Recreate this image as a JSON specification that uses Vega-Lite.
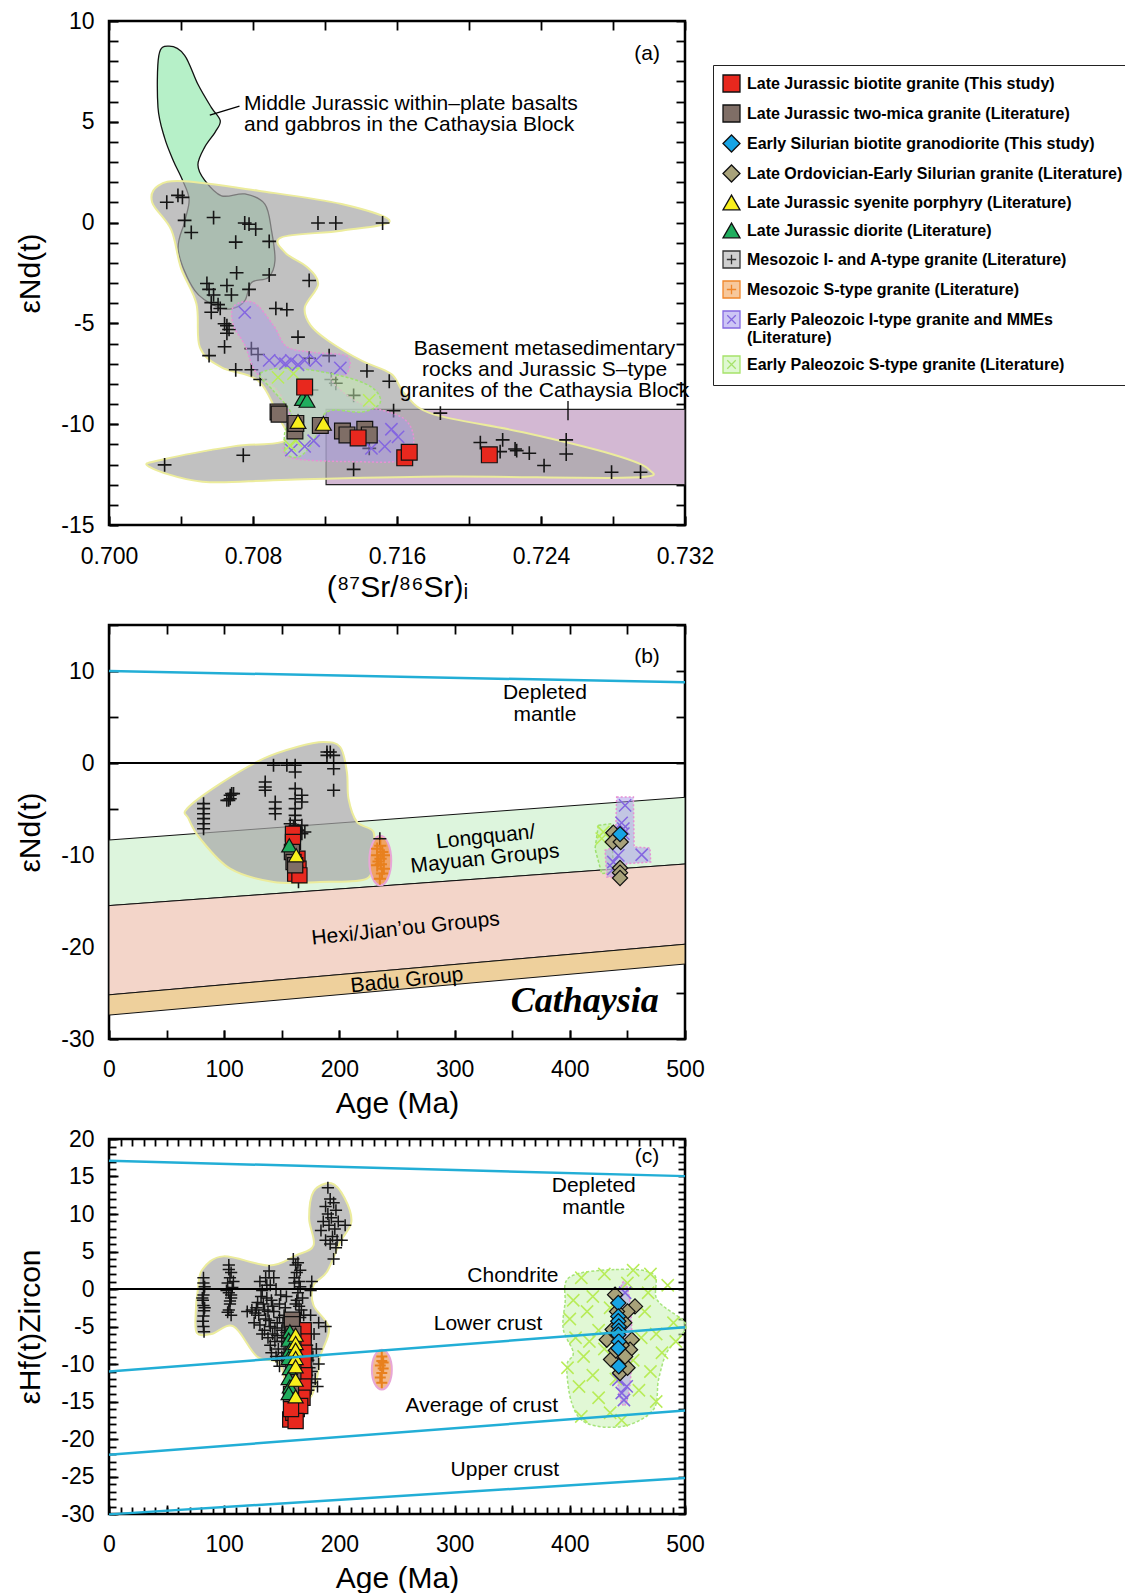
{
"$schema": "https://vega.github.io/schema/vega-lite/v6.json",
"background": "white",
"padding": {"left": 14, "top": 8, "right": 0, "bottom": 0},
"spacing": 100,
"bounds": "flush",
"config": {
  "font": "Liberation Sans",
  "view": {"stroke": "black", "strokeWidth": 2.5},
  "axis": {"domain": false, "grid": false, "ticks": true, "tickColor": "black", "tickWidth": 1.8, "tickSize": -9, "labelFontSize": 23, "labelColor": "black", "labelPadding": 24, "labelFlush": false, "labelOverlap": false, "titleFontSize": 30, "titleFontWeight": "normal", "titleColor": "black"},
  "text": {"font": "Liberation Sans", "fontSize": 21, "color": "black"}
},
"resolve": {"legend": {"shape": "independent", "fill": "independent", "stroke": "independent"}},
"datasets": {
  "a_rect": [{"x0": 0.71206, "x1": 0.732, "y0": -9.26, "y1": -13.0}],
  "a_poly": [
    {"f":"basalt","i":1,"x":0.70334,"y":8.75},{"f":"basalt","i":2,"x":0.7042,"y":8.3},{"f":"basalt","i":3,"x":0.70494,"y":6.86},{"f":"basalt","i":4,"x":0.70568,"y":5.72},{"f":"basalt","i":5,"x":0.70618,"y":5.06},{"f":"basalt","i":6,"x":0.7059,"y":4.49},{"f":"basalt","i":7,"x":0.70531,"y":3.73},{"f":"basalt","i":8,"x":0.70494,"y":2.87},{"f":"basalt","i":9,"x":0.70531,"y":2.11},{"f":"basalt","i":10,"x":0.70625,"y":1.33},{"f":"basalt","i":11,"x":0.70755,"y":1.42},{"f":"basalt","i":12,"x":0.70866,"y":0.92},{"f":"basalt","i":13,"x":0.70903,"y":-0.4},{"f":"basalt","i":14,"x":0.70922,"y":-1.89},{"f":"basalt","i":15,"x":0.70885,"y":-2.72},{"f":"basalt","i":16,"x":0.70792,"y":-2.97},{"f":"basalt","i":17,"x":0.70755,"y":-3.87},{"f":"basalt","i":18,"x":0.7069,"y":-4.25},{"f":"basalt","i":19,"x":0.70607,"y":-4.21},{"f":"basalt","i":20,"x":0.70477,"y":-3.38},{"f":"basalt","i":21,"x":0.70385,"y":-1.4},{"f":"basalt","i":22,"x":0.70422,"y":0.09},{"f":"basalt","i":23,"x":0.70445,"y":1.16},{"f":"basalt","i":24,"x":0.70408,"y":2.11},{"f":"basalt","i":25,"x":0.70358,"y":3.06},{"f":"basalt","i":26,"x":0.70309,"y":4.2},{"f":"basalt","i":27,"x":0.70272,"y":5.72},{"f":"basalt","i":28,"x":0.70277,"y":8.3},
    {"f":"meso","i":1,"x":0.70274,"y":1.83},{"f":"meso","i":2,"x":0.7042,"y":2.05},{"f":"meso","i":3,"x":0.70829,"y":1.58},{"f":"meso","i":4,"x":0.71292,"y":0.92},{"f":"meso","i":5,"x":0.7156,"y":0.07},{"f":"meso","i":6,"x":0.71292,"y":-0.4},{"f":"meso","i":7,"x":0.70958,"y":-0.73},{"f":"meso","i":8,"x":0.7098,"y":-1.5},{"f":"meso","i":9,"x":0.711,"y":-2.2},{"f":"meso","i":10,"x":0.71162,"y":-3.05},{"f":"meso","i":11,"x":0.71088,"y":-4.2},{"f":"meso","i":12,"x":0.7112,"y":-5.1},{"f":"meso","i":13,"x":0.71218,"y":-5.86},{"f":"meso","i":14,"x":0.71403,"y":-6.85},{"f":"meso","i":15,"x":0.71569,"y":-7.51},{"f":"meso","i":16,"x":0.71643,"y":-8.5},{"f":"meso","i":17,"x":0.718,"y":-9.5},{"f":"meso","i":18,"x":0.723,"y":-10.4},{"f":"meso","i":19,"x":0.728,"y":-11.5},{"f":"meso","i":20,"x":0.73,"y":-12.25},{"f":"meso","i":21,"x":0.729,"y":-12.65},{"f":"meso","i":22,"x":0.71878,"y":-12.6},{"f":"meso","i":23,"x":0.71,"y":-12.75},{"f":"meso","i":24,"x":0.70519,"y":-12.85},{"f":"meso","i":25,"x":0.70222,"y":-12.1},{"f":"meso","i":26,"x":0.703,"y":-11.75},{"f":"meso","i":27,"x":0.70692,"y":-11.1},{"f":"meso","i":28,"x":0.70977,"y":-10.82},{"f":"meso","i":29,"x":0.7094,"y":-9.6},{"f":"meso","i":30,"x":0.70829,"y":-7.84},{"f":"meso","i":31,"x":0.70625,"y":-7.18},{"f":"meso","i":32,"x":0.70505,"y":-6.19},{"f":"meso","i":33,"x":0.70486,"y":-4.04},{"f":"meso","i":34,"x":0.704,"y":-2.26},{"f":"meso","i":35,"x":0.70346,"y":-0.36},{"f":"meso","i":36,"x":0.7024,"y":1.0},
    {"f":"lav","i":1,"x":0.70692,"y":-4.16},{"f":"lav","i":2,"x":0.70803,"y":-3.97},{"f":"lav","i":3,"x":0.70914,"y":-5.11},{"f":"lav","i":4,"x":0.70988,"y":-6.16},{"f":"lav","i":5,"x":0.71137,"y":-6.44},{"f":"lav","i":6,"x":0.71322,"y":-6.63},{"f":"lav","i":7,"x":0.71322,"y":-7.49},{"f":"lav","i":8,"x":0.71235,"y":-7.78},{"f":"lav","i":9,"x":0.71384,"y":-8.92},{"f":"lav","i":10,"x":0.71631,"y":-9.68},{"f":"lav","i":11,"x":0.71693,"y":-10.82},{"f":"lav","i":12,"x":0.71631,"y":-11.77},{"f":"lav","i":13,"x":0.71384,"y":-11.86},{"f":"lav","i":14,"x":0.71013,"y":-11.67},{"f":"lav","i":15,"x":0.70976,"y":-10.82},{"f":"lav","i":16,"x":0.71013,"y":-9.87},{"f":"lav","i":17,"x":0.70939,"y":-8.35},{"f":"lav","i":18,"x":0.70815,"y":-7.4},{"f":"lav","i":19,"x":0.70754,"y":-6.06},{"f":"lav","i":20,"x":0.70692,"y":-5.11},
    {"f":"lg","i":1,"x":0.7084,"y":-7.49},{"f":"lg","i":2,"x":0.71013,"y":-7.21},{"f":"lg","i":3,"x":0.71285,"y":-7.59},{"f":"lg","i":4,"x":0.71458,"y":-8.16},{"f":"lg","i":5,"x":0.71507,"y":-8.92},{"f":"lg","i":6,"x":0.71408,"y":-9.39},{"f":"lg","i":7,"x":0.71211,"y":-9.39},{"f":"lg","i":8,"x":0.71137,"y":-10.82},{"f":"lg","i":9,"x":0.71063,"y":-11.58},{"f":"lg","i":10,"x":0.70988,"y":-11.48},{"f":"lg","i":11,"x":0.70976,"y":-10.44},{"f":"lg","i":12,"x":0.71013,"y":-9.49},{"f":"lg","i":13,"x":0.70914,"y":-8.35}
  ],
  "a_plus": [
    {"x":0.70321,"y":1.01},{"x":0.70383,"y":1.35},{"x":0.70408,"y":1.25},{"x":0.7042,"y":0.11},{"x":0.70457,"y":-0.49},{"x":0.70581,"y":0.25},{"x":0.70754,"y":-0.02},{"x":0.70778,"y":-0.08},{"x":0.70815,"y":-0.32},{"x":0.7089,"y":-0.93},{"x":0.70704,"y":-0.97},{"x":0.71161,"y":-0.02},{"x":0.7126,"y":-0.02},{"x":0.7152,"y":-0.02},{"x":0.7089,"y":-2.6},{"x":0.71112,"y":-2.87},{"x":0.70709,"y":-2.49},{"x":0.70544,"y":-3.02},{"x":0.70556,"y":-3.31},{"x":0.70581,"y":-3.59},{"x":0.70655,"y":-3.12},{"x":0.7068,"y":-3.59},{"x":0.70778,"y":-3.31},{"x":0.70568,"y":-3.97},{"x":0.70606,"y":-4.07},{"x":0.70568,"y":-4.45},{"x":0.70618,"y":-4.26},{"x":0.70927,"y":-4.26},{"x":0.70988,"y":-4.32},{"x":0.70655,"y":-5.11},{"x":0.70667,"y":-5.3},{"x":0.70642,"y":-5.02},{"x":0.7105,"y":-5.68},{"x":0.70655,"y":-5.49},{"x":0.70556,"y":-6.6},{"x":0.70642,"y":-6.16},{"x":0.70704,"y":-7.3},{"x":0.70791,"y":-7.3},{"x":0.7084,"y":-7.78},{"x":0.71433,"y":-7.36},{"x":0.71557,"y":-7.87},{"x":0.71223,"y":-6.6},{"x":0.71112,"y":-6.73},{"x":0.71359,"y":-8.57},{"x":0.71581,"y":-9.33},{"x":0.71841,"y":-9.45},{"x":0.70309,"y":-12.02},{"x":0.70746,"y":-11.54},{"x":0.71359,"y":-12.24},{"x":0.72063,"y":-10.91},{"x":0.72187,"y":-10.78},{"x":0.72256,"y":-11.23},{"x":0.72265,"y":-11.31},{"x":0.72335,"y":-11.44},{"x":0.72417,"y":-12.05},{"x":0.7254,"y":-10.78},{"x":0.7254,"y":-11.48},{"x":0.72792,"y":-12.38},{"x":0.72953,"y":-12.38},{"x":0.71446,"y":-11.2},{"x":0.72173,"y":-11.36},{"x":0.70791,"y":-6.25},{"x":0.70828,"y":-6.54},{"x":0.71235,"y":-7.78},{"x":0.7126,"y":-7.97},{"x":0.71125,"y":-8.3}
  ],
  "a_xl": [
    {"x":0.70754,"y":-4.45},{"x":0.7089,"y":-6.83},{"x":0.70951,"y":-6.86},{"x":0.71013,"y":-6.83},{"x":0.71087,"y":-6.83},{"x":0.71149,"y":-6.83},{"x":0.71285,"y":-7.21},{"x":0.71569,"y":-10.25},{"x":0.71606,"y":-10.63},{"x":0.71532,"y":-11.1},{"x":0.71458,"y":-11.2},{"x":0.71137,"y":-10.82},{"x":0.71087,"y":-11.1},{"x":0.71013,"y":-11.29},{"x":0.7098,"y":-7.0},{"x":0.7105,"y":-7.05}
  ],
  "a_xg": [
    {"x":0.70939,"y":-7.68},{"x":0.71025,"y":-7.49},{"x":0.71446,"y":-8.82},{"x":0.71038,"y":-10.82},{"x":0.71005,"y":-11.05}
  ],
  "a_sym": [
    {"s":"Late Jurassic two-mica granite (Literature)","x":0.70939,"y":-9.39},{"s":"Late Jurassic two-mica granite (Literature)","x":0.70945,"y":-9.5},{"s":"Late Jurassic two-mica granite (Literature)","x":0.71033,"y":-10.34},{"s":"Late Jurassic two-mica granite (Literature)","x":0.71038,"y":-9.96},{"s":"Late Jurassic two-mica granite (Literature)","x":0.71174,"y":-10.06},{"s":"Late Jurassic two-mica granite (Literature)","x":0.71297,"y":-10.34},{"s":"Late Jurassic two-mica granite (Literature)","x":0.71322,"y":-10.53},{"s":"Late Jurassic two-mica granite (Literature)","x":0.71421,"y":-10.25},{"s":"Late Jurassic two-mica granite (Literature)","x":0.71446,"y":-10.53},
    {"s":"Late Jurassic diorite (Literature)","x":0.71075,"y":-8.73},{"s":"Late Jurassic diorite (Literature)","x":0.711,"y":-8.82},
    {"s":"Late Jurassic syenite porphyry (Literature)","x":0.7105,"y":-9.87},{"s":"Late Jurassic syenite porphyry (Literature)","x":0.71191,"y":-9.96},
    {"s":"Late Jurassic biotite granite (This study)","x":0.71087,"y":-8.16},{"s":"Late Jurassic biotite granite (This study)","x":0.71384,"y":-10.68},{"s":"Late Jurassic biotite granite (This study)","x":0.71643,"y":-11.67},{"s":"Late Jurassic biotite granite (This study)","x":0.71668,"y":-11.39},{"s":"Late Jurassic biotite granite (This study)","x":0.72113,"y":-11.52}
  ],
  "a_text_c": [
    {"t":"(a)","x":0.7299,"y":8.38},{"t":"Basement metasedimentary","x":0.7242,"y":-6.25},{"t":"rocks and Jurassic S–type","x":0.7242,"y":-7.29},{"t":"granites of the Cathaysia Block","x":0.7242,"y":-8.33}
  ],
  "a_text_l": [
    {"t":"Middle Jurassic within–plate basalts","x":0.7075,"y":5.9},{"t":"and gabbros in the Cathaysia Block","x":0.7075,"y":4.86}
  ],
  "a_arrow": [
    {"x":0.70725,"y":5.78,"x2":0.7056,"y2":5.33},{"x":0.7255,"y":-8.85,"x2":0.7255,"y2":-9.8}
  ],
  "b_band": [
    {"b":"lm","x":0,"hi":-8.37,"lo":-15.5},{"b":"lm","x":500,"hi":-3.73,"lo":-10.98},
    {"b":"hx","x":0,"hi":-15.5,"lo":-25.2},{"b":"hx","x":500,"hi":-10.98,"lo":-19.7},
    {"b":"bd","x":0,"hi":-25.2,"lo":-27.4},{"b":"bd","x":500,"hi":-19.7,"lo":-21.85}
  ],
  "b_lines": [
    {"l":"dm","x":0,"y":10},{"l":"dm","x":500,"y":8.77},{"l":"ch","x":0,"y":0},{"l":"ch","x":500,"y":0}
  ],
  "b_poly": [
    {"f":"meso","i":1,"x":67.7,"y":-4.97},{"f":"meso","i":2,"x":96.6,"y":-2.25},{"f":"meso","i":3,"x":134.1,"y":0.47},{"f":"meso","i":4,"x":163.1,"y":1.74},{"f":"meso","i":5,"x":186.2,"y":2.28},{"f":"meso","i":6,"x":200.7,"y":1.74},{"f":"meso","i":7,"x":206.5,"y":-0.98},{"f":"meso","i":8,"x":207.9,"y":-3.88},{"f":"meso","i":9,"x":215.2,"y":-6.41},{"f":"meso","i":10,"x":229.6,"y":-7.5},{"f":"meso","i":11,"x":228,"y":-10.0},{"f":"meso","i":12,"x":223.8,"y":-12.58},{"f":"meso","i":13,"x":183.3,"y":-12.93},{"f":"meso","i":14,"x":142.8,"y":-12.93},{"f":"meso","i":15,"x":105.2,"y":-11.49},{"f":"meso","i":16,"x":79.2,"y":-8.23},{"f":"meso","i":17,"x":69.1,"y":-6.05},
    {"f":"lav","i":1,"x":440.7,"y":-3.7},{"f":"lav","i":2,"x":455.2,"y":-3.7},{"f":"lav","i":3,"x":455.8,"y":-9.13},{"f":"lav","i":4,"x":469.6,"y":-9.24},{"f":"lav","i":5,"x":470.2,"y":-10.76},{"f":"lav","i":6,"x":449.4,"y":-10.94},{"f":"lav","i":7,"x":445,"y":-12.39},{"f":"lav","i":8,"x":432.1,"y":-12.39},{"f":"lav","i":9,"x":430.6,"y":-9.49},{"f":"lav","i":10,"x":439.3,"y":-9.13},{"f":"lav","i":11,"x":440.1,"y":-6.41},
    {"f":"lg","i":1,"x":424.8,"y":-6.77},{"f":"lg","i":2,"x":436.4,"y":-6.6},{"f":"lg","i":3,"x":437.8,"y":-11.85},{"f":"lg","i":4,"x":427.7,"y":-12.03},{"f":"lg","i":5,"x":421.9,"y":-9.31},
    {"f":"or","i":1,"x":235.5,"y":-7.9},{"f":"or","i":2,"x":242.2,"y":-8.7},{"f":"or","i":3,"x":245,"y":-10.6},{"f":"or","i":4,"x":242.2,"y":-12.5},{"f":"or","i":5,"x":235.5,"y":-13.3},{"f":"or","i":6,"x":228.8,"y":-12.5},{"f":"or","i":7,"x":226,"y":-10.6},{"f":"or","i":8,"x":228.8,"y":-8.7}
  ],
  "b_plus": [
    {"x":82.1,"y":-4.42},{"x":82.1,"y":-4.96},{"x":82.1,"y":-5.51},{"x":82.1,"y":-6.05},{"x":82.1,"y":-6.6},{"x":82.1,"y":-7.14},{"x":105.2,"y":-3.51},{"x":105.2,"y":-3.88},{"x":106.5,"y":-3.33},{"x":104,"y":-4.06},{"x":102.3,"y":-4.06},{"x":108.1,"y":-3.33},{"x":135.6,"y":-2.07},{"x":135.6,"y":-2.61},{"x":135.6,"y":-2.97},{"x":144.3,"y":-4.24},{"x":144.3,"y":-4.96},{"x":144.3,"y":-5.51},{"x":142.8,"y":-0.25},{"x":154.4,"y":-0.25},{"x":161.6,"y":-0.25},{"x":161.6,"y":-0.98},{"x":161.6,"y":-2.79},{"x":161.6,"y":-3.88},{"x":161.6,"y":-4.96},{"x":161.6,"y":-5.69},{"x":161.6,"y":-6.23},{"x":161.6,"y":-6.78},{"x":167.4,"y":-3.51},{"x":167.4,"y":-4.24},{"x":167.4,"y":-6.78},{"x":167.4,"y":-7.68},{"x":160.2,"y":-6.96},{"x":157.3,"y":-6.6},{"x":164,"y":-7.3},{"x":170,"y":-7.5},{"x":189.2,"y":1.2},{"x":189.2,"y":0.83},{"x":192.1,"y":1.2},{"x":195,"y":0.83},{"x":195,"y":-0.62},{"x":195,"y":-2.97},{"x":164.5,"y":-12.9},{"x":235.1,"y":-8.23}
  ],
  "b_orange": [
    {"x":232.8,"y":-9.31},{"x":237.2,"y":-9.67},{"x":235.7,"y":-10.4},{"x":232.8,"y":-11.12},{"x":238.6,"y":-11.49},{"x":235.1,"y":-12.57},{"x":238.6,"y":-10.04},{"x":232.8,"y":-10.04},{"x":235.5,"y":-9.0},{"x":236,"y":-11.0},{"x":234,"y":-10.7},{"x":237,"y":-12.0}
  ],
  "b_xl": [
    {"x":448,"y":-4.6},{"x":462.4,"y":-9.97},{"x":446.5,"y":-7.14},{"x":437.8,"y":-10.76},{"x":442.1,"y":-10.04},{"x":437.8,"y":-11.5},{"x":446.5,"y":-7.68},{"x":445,"y":-6.5}
  ],
  "b_xg": [{"x":427.7,"y":-8.23},{"x":429.1,"y":-7.5}],
  "b_sym": [
    {"s":"Late Jurassic biotite granite (This study)","x":159.7,"y":-7.68},{"s":"Late Jurassic biotite granite (This study)","x":159.7,"y":-8.59},{"s":"Late Jurassic biotite granite (This study)","x":163.6,"y":-10.4},{"s":"Late Jurassic biotite granite (This study)","x":164.5,"y":-11.49},{"s":"Late Jurassic biotite granite (This study)","x":161.6,"y":-12.03},{"s":"Late Jurassic biotite granite (This study)","x":165.3,"y":-12.21},
    {"s":"Late Jurassic two-mica granite (Literature)","x":158.8,"y":-9.68},{"s":"Late Jurassic two-mica granite (Literature)","x":160.2,"y":-10.76},{"s":"Late Jurassic two-mica granite (Literature)","x":161.6,"y":-11.12},
    {"s":"Late Jurassic diorite (Literature)","x":156.5,"y":-8.95},
    {"s":"Late Jurassic syenite porphyry (Literature)","x":162.5,"y":-10.04},
    {"s":"Late Ordovician-Early Silurian granite (Literature)","x":437.8,"y":-7.58},{"s":"Late Ordovician-Early Silurian granite (Literature)","x":437.2,"y":-8.59},{"s":"Late Ordovician-Early Silurian granite (Literature)","x":444.2,"y":-8.59},{"s":"Late Ordovician-Early Silurian granite (Literature)","x":443.6,"y":-11.41},{"s":"Late Ordovician-Early Silurian granite (Literature)","x":443.6,"y":-11.92},{"s":"Late Ordovician-Early Silurian granite (Literature)","x":443.6,"y":-12.5},
    {"s":"Early Silurian biotite granodiorite (This study)","x":443.6,"y":-7.73}
  ],
  "b_text": [
    {"t":"(b)","x":467,"y":11.49},{"t":"Depleted","x":378.4,"y":7.6},{"t":"mantle","x":378.4,"y":5.2}
  ],
  "b_text_r": [
    {"t":"Longquan/","x":327,"y":-8.08},{"t":"Mayuan Groups","x":326.3,"y":-10.43},{"t":"Hexi/Jian’ou Groups","x":257.5,"y":-18.04},{"t":"Badu Group","x":258.7,"y":-23.66}
  ],
  "b_cath": [{"t":"Cathaysia","x":413,"y":-25.83}],
  "c_lines": [
    {"l":"dm","x":0,"y":17.1},{"l":"dm","x":500,"y":15.05},{"l":"lc","x":0,"y":-11},{"l":"lc","x":500,"y":-5.1},{"l":"ac","x":0,"y":-22.1},{"l":"ac","x":500,"y":-16.2},{"l":"uc","x":0,"y":-30.05},{"l":"uc","x":500,"y":-25.2},{"l":"ch","x":0,"y":0},{"l":"ch","x":500,"y":0}
  ],
  "c_poly": [
    {"f":"meso","i":1,"x":77.2,"y":0},{"f":"meso","i":2,"x":81.1,"y":2.6},{"f":"meso","i":3,"x":99.4,"y":4.35},{"f":"meso","i":4,"x":139,"y":3.14},{"f":"meso","i":5,"x":162.2,"y":4.48},{"f":"meso","i":6,"x":177.6,"y":5.83},{"f":"meso","i":7,"x":173.7,"y":9.42},{"f":"meso","i":8,"x":177.6,"y":13.0},{"f":"meso","i":9,"x":193,"y":14.1},{"f":"meso","i":10,"x":204.6,"y":12.1},{"f":"meso","i":11,"x":210.4,"y":8.97},{"f":"meso","i":12,"x":200.8,"y":6.28},{"f":"meso","i":13,"x":189.2,"y":2.29},{"f":"meso","i":14,"x":177.6,"y":0.5},{"f":"meso","i":15,"x":177.6,"y":-2.2},{"f":"meso","i":16,"x":191,"y":-5.2},{"f":"meso","i":17,"x":183.3,"y":-8.99},{"f":"meso","i":18,"x":181,"y":-11.5},{"f":"meso","i":19,"x":174.6,"y":-14.5},{"f":"meso","i":20,"x":157.3,"y":-15.2},{"f":"meso","i":21,"x":148.6,"y":-10.09},{"f":"meso","i":22,"x":128.4,"y":-8.99},{"f":"meso","i":23,"x":108.1,"y":-4.99},{"f":"meso","i":24,"x":88.8,"y":-6.0},{"f":"meso","i":25,"x":76.3,"y":-5.87},{"f":"meso","i":26,"x":75.3,"y":-3.1},
    {"f":"lg","i":1,"x":400,"y":1.6},{"f":"lg","i":2,"x":440,"y":2.6},{"f":"lg","i":3,"x":472.5,"y":2.0},{"f":"lg","i":4,"x":476,"y":-1.5},{"f":"lg","i":5,"x":500,"y":-4.5},{"f":"lg","i":6,"x":495,"y":-6.5},{"f":"lg","i":7,"x":484,"y":-8.5},{"f":"lg","i":8,"x":477,"y":-12.1},{"f":"lg","i":9,"x":472.5,"y":-16.1},{"f":"lg","i":10,"x":446.5,"y":-18.3},{"f":"lg","i":11,"x":414.7,"y":-17.9},{"f":"lg","i":12,"x":401.7,"y":-15.2},{"f":"lg","i":13,"x":397.4,"y":-10.3},{"f":"lg","i":14,"x":403,"y":-8.5},{"f":"lg","i":15,"x":394.4,"y":-5.4},{"f":"lg","i":16,"x":395.9,"y":-1.9},
    {"f":"lav","i":1,"x":447,"y":1.0},{"f":"lav","i":2,"x":452,"y":-1.5},{"f":"lav","i":3,"x":454,"y":-7.3},{"f":"lav","i":4,"x":452,"y":-13},{"f":"lav","i":5,"x":447,"y":-15.6},{"f":"lav","i":6,"x":442,"y":-13},{"f":"lav","i":7,"x":440,"y":-7.3},{"f":"lav","i":8,"x":442,"y":-1.5},
    {"f":"or","i":1,"x":236.8,"y":-8.1},{"f":"or","i":2,"x":243,"y":-8.9},{"f":"or","i":3,"x":245.5,"y":-10.76},{"f":"or","i":4,"x":243,"y":-12.6},{"f":"or","i":5,"x":236.8,"y":-13.4},{"f":"or","i":6,"x":230.6,"y":-12.6},{"f":"or","i":7,"x":228.2,"y":-10.76},{"f":"or","i":8,"x":230.6,"y":-8.9}
  ],
  "c_plus": [
    {"x":82,"y":1.5},{"x":82,"y":0.8},{"x":82.5,"y":0},{"x":82,"y":-0.8},{"x":81.5,"y":-1.5},{"x":82,"y":-2.2},{"x":82.5,"y":-2.9},{"x":82,"y":-3.6},{"x":81.5,"y":-4.3},{"x":82,"y":-5.0},{"x":82.5,"y":-5.7},{"x":83,"y":0.3},{"x":81,"y":-1.2},{"x":83,"y":-2.5},
    {"x":104,"y":3.2},{"x":106,"y":2.2},{"x":105,"y":1.5},{"x":103,"y":0.8},{"x":107,"y":0.2},{"x":104,"y":-0.5},{"x":106,"y":-1.2},{"x":105,"y":-2.0},{"x":104,"y":-2.8},{"x":106,"y":-3.5},{"x":108,"y":1.0},{"x":102,"y":-0.2},{"x":104,"y":2.6},{"x":106,"y":-0.8},{"x":105,"y":-1.6},{"x":103,"y":-3.1},
    {"x":128,"y":-2.5},{"x":130,"y":-3.5},{"x":132,"y":-1.0},{"x":134,"y":-2.0},{"x":136,"y":-4.0},{"x":137,"y":0.5},{"x":138,"y":-3.0},{"x":139,"y":2.4},{"x":140,"y":-5.0},{"x":141,"y":-1.5},{"x":142,"y":-6.0},{"x":143,"y":-3.0},{"x":144,"y":-7.0},{"x":145,"y":0.0},{"x":146,"y":-4.5},{"x":147,"y":-8.0},{"x":148,"y":-2.0},{"x":150,"y":-5.5},{"x":150,"y":-9.0},{"x":152,"y":-3.5},{"x":152,"y":-6.5},{"x":154,"y":-1.0},{"x":155,"y":-7.5},{"x":135,"y":-5.5},{"x":138,"y":-6.5},{"x":133,"y":-0.2},{"x":131,"y":1.0},{"x":143,"y":1.5},{"x":126,"y":-4.5},{"x":120,"y":-3.0},{"x":124,"y":-2.8},{"x":148,"y":-10.3},{"x":145,"y":-9.0},{"x":141,"y":-8.5},
    {"x":129,"y":-1.8},{"x":131,"y":-4.8},{"x":133,"y":-6.0},{"x":135,"y":-2.8},{"x":137,"y":-1.2},{"x":139,"y":-4.2},{"x":140,"y":-7.5},{"x":142,"y":-2.3},{"x":144,"y":-5.2},{"x":146,"y":-6.2},{"x":148,"y":-3.8},{"x":149,"y":-0.8},{"x":151,"y":-4.5},{"x":153,"y":-2.5},{"x":154,"y":-5.8},{"x":136,"y":1.5},{"x":140,"y":0.5},{"x":127,"y":-3.2},{"x":146,"y":-9.5},{"x":152,"y":-8.5},
    {"x":160,"y":4},{"x":162,"y":3.2},{"x":163,"y":2.2},{"x":161,"y":1.5},{"x":165,"y":1.0},{"x":166,"y":0.3},{"x":164,"y":-0.5},{"x":168,"y":-1.2},{"x":162,"y":-2.0},{"x":167,"y":-2.8},{"x":169,"y":-3.5},{"x":160,"y":-4.2},{"x":165,"y":-5.0},{"x":170,"y":-5.8},{"x":168,"y":-6.5},{"x":172,"y":-7.5},{"x":171,"y":-8.5},{"x":173,"y":-9.5},{"x":174,"y":-10.5},{"x":172,"y":-11.5},{"x":175,"y":-12.5},{"x":173,"y":-13.5},{"x":170,"y":-14.2},{"x":178,"y":-6.0},{"x":180,"y":-8.0},{"x":182,"y":-10.0},{"x":179,"y":-12.0},{"x":176,"y":-11.0},{"x":177,"y":-9.0},{"x":181,"y":-13.0},{"x":188,"y":-5.0},{"x":182,"y":-4.5},{"x":175,"y":-3.5},{"x":155,"y":-8.5},{"x":150,"y":-7.0},{"x":175,"y":-0.2},{"x":176,"y":1.0},
    {"x":161,"y":0.8},{"x":163,"y":-1.5},{"x":165,"y":-2.3},{"x":166,"y":-3.8},{"x":162,"y":-4.8},{"x":167,"y":-5.5},{"x":163,"y":-6.3},{"x":169,"y":-7.2},{"x":165,"y":-8.5},{"x":170,"y":-9.8},{"x":168,"y":-11.0},{"x":171,"y":-12.8},{"x":166,"y":2.5},{"x":164,"y":3.5},
    {"x":190,"y":13.5},{"x":192,"y":12.0},{"x":188,"y":11.0},{"x":195,"y":11.5},{"x":190,"y":10.0},{"x":193,"y":9.5},{"x":197,"y":10.5},{"x":186,"y":9.0},{"x":191,"y":8.5},{"x":196,"y":8.0},{"x":199,"y":9.0},{"x":184,"y":7.8},{"x":194,"y":7.0},{"x":198,"y":6.5},{"x":192,"y":6.0},{"x":202,"y":6.5},{"x":197,"y":5.5},{"x":195,"y":4.0},{"x":205,"y":8.5},{"x":188,"y":6.5}
  ],
  "c_orange": [
    {"x":236.8,"y":-9.0},{"x":236.8,"y":-9.6},{"x":235.5,"y":-10.2},{"x":238,"y":-10.6},{"x":236.8,"y":-11.2},{"x":235.5,"y":-11.8},{"x":236.8,"y":-12.5},{"x":238,"y":-9.8}
  ],
  "c_xl": [
    {"x":445.1,"y":-13.87},{"x":449.4,"y":-12.98},{"x":442.2,"y":-12.1},{"x":447,"y":-14.8},{"x":446,"y":-9.5},{"x":448,"y":-0.5}
  ],
  "c_xg": [
    {"x":410,"y":1.5},{"x":420,"y":-1.0},{"x":430,"y":2.0},{"x":455,"y":2.5},{"x":470,"y":2.0},{"x":485,"y":0.5},{"x":400,"y":-4.0},{"x":405,"y":-6.5},{"x":415,"y":-3.0},{"x":425,"y":-5.5},{"x":435,"y":-2.5},{"x":412,"y":-9.0},{"x":420,"y":-11.5},{"x":430,"y":-8.0},{"x":408,"y":-13.0},{"x":425,"y":-14.5},{"x":435,"y":-16.5},{"x":445,"y":-17.5},{"x":410,"y":-17.0},{"x":465,"y":-3.0},{"x":475,"y":-6.0},{"x":490,"y":-4.5},{"x":480,"y":-8.5},{"x":470,"y":-11.0},{"x":460,"y":-13.5},{"x":475,"y":-15.0},{"x":455,"y":-9.5},{"x":462,"y":-6.5},{"x":468,"y":-0.5},{"x":398,"y":-10.5},{"x":440,"y":-12.0},{"x":417,"y":-7.0},{"x":492,"y":-7.0},{"x":450,"y":0.8},{"x":403,"y":-1.5}
  ],
  "c_sym": [
    {"s":"Late Jurassic biotite granite (This study)","x":169,"y":-5.5},{"s":"Late Jurassic biotite granite (This study)","x":169,"y":-7},{"s":"Late Jurassic biotite granite (This study)","x":169.5,"y":-8.5},{"s":"Late Jurassic biotite granite (This study)","x":169,"y":-10},{"s":"Late Jurassic biotite granite (This study)","x":169.5,"y":-11.5},{"s":"Late Jurassic biotite granite (This study)","x":169,"y":-13},{"s":"Late Jurassic biotite granite (This study)","x":168,"y":-14.5},{"s":"Late Jurassic biotite granite (This study)","x":157.3,"y":-17.4},{"s":"Late Jurassic biotite granite (This study)","x":160,"y":-16.5},{"s":"Late Jurassic biotite granite (This study)","x":163,"y":-16},{"s":"Late Jurassic biotite granite (This study)","x":166,"y":-15.6},{"s":"Late Jurassic biotite granite (This study)","x":162,"y":-17.6},{"s":"Late Jurassic biotite granite (This study)","x":158,"y":-16},
    {"s":"Late Jurassic two-mica granite (Literature)","x":158.8,"y":-4.1},{"s":"Late Jurassic two-mica granite (Literature)","x":158.8,"y":-4.7},{"s":"Late Jurassic two-mica granite (Literature)","x":160,"y":-6},{"s":"Late Jurassic two-mica granite (Literature)","x":160,"y":-8},{"s":"Late Jurassic two-mica granite (Literature)","x":160,"y":-11},{"s":"Late Jurassic two-mica granite (Literature)","x":158,"y":-14},
    {"s":"Late Jurassic diorite (Literature)","x":157,"y":-5.65},{"s":"Late Jurassic diorite (Literature)","x":156,"y":-6.76},{"s":"Late Jurassic diorite (Literature)","x":157,"y":-8.09},{"s":"Late Jurassic diorite (Literature)","x":156,"y":-9.2},{"s":"Late Jurassic diorite (Literature)","x":157,"y":-10.53},{"s":"Late Jurassic diorite (Literature)","x":156,"y":-11.87},{"s":"Late Jurassic diorite (Literature)","x":157,"y":-12.99},{"s":"Late Jurassic diorite (Literature)","x":156,"y":-13.87},
    {"s":"Late Jurassic syenite porphyry (Literature)","x":162,"y":-6.09},{"s":"Late Jurassic syenite porphyry (Literature)","x":162,"y":-7.2},{"s":"Late Jurassic syenite porphyry (Literature)","x":162,"y":-8.09},{"s":"Late Jurassic syenite porphyry (Literature)","x":162,"y":-9.2},{"s":"Late Jurassic syenite porphyry (Literature)","x":162,"y":-10.32},{"s":"Late Jurassic syenite porphyry (Literature)","x":162,"y":-12.09},{"s":"Late Jurassic syenite porphyry (Literature)","x":162,"y":-14.32},
    {"s":"Late Ordovician-Early Silurian granite (Literature)","x":439.3,"y":-0.76},{"s":"Late Ordovician-Early Silurian granite (Literature)","x":456.6,"y":-2.32},{"s":"Late Ordovician-Early Silurian granite (Literature)","x":450.1,"y":-2.99},{"s":"Late Ordovician-Early Silurian granite (Literature)","x":432.1,"y":-6.76},{"s":"Late Ordovician-Early Silurian granite (Literature)","x":453.8,"y":-6.76},{"s":"Late Ordovician-Early Silurian granite (Literature)","x":452.3,"y":-8.1},{"s":"Late Ordovician-Early Silurian granite (Literature)","x":443.6,"y":-11.2},{"s":"Late Ordovician-Early Silurian granite (Literature)","x":450.1,"y":-10.5},{"s":"Late Ordovician-Early Silurian granite (Literature)","x":437.2,"y":-5.4},{"s":"Late Ordovician-Early Silurian granite (Literature)","x":447.3,"y":-4.5},{"s":"Late Ordovician-Early Silurian granite (Literature)","x":435.8,"y":-9.4},{"s":"Late Ordovician-Early Silurian granite (Literature)","x":441,"y":-3.0},{"s":"Late Ordovician-Early Silurian granite (Literature)","x":445,"y":-7.5},{"s":"Late Ordovician-Early Silurian granite (Literature)","x":448,"y":-9.0},{"s":"Late Ordovician-Early Silurian granite (Literature)","x":440,"y":-8.2},
    {"s":"Early Silurian biotite granodiorite (This study)","x":442.1,"y":-1.87},{"s":"Early Silurian biotite granodiorite (This study)","x":442.1,"y":-3.65},{"s":"Early Silurian biotite granodiorite (This study)","x":442.1,"y":-4.3},{"s":"Early Silurian biotite granodiorite (This study)","x":442.5,"y":-5.0},{"s":"Early Silurian biotite granodiorite (This study)","x":442.5,"y":-5.6},{"s":"Early Silurian biotite granodiorite (This study)","x":442.1,"y":-6.1},{"s":"Early Silurian biotite granodiorite (This study)","x":442.5,"y":-7.0},{"s":"Early Silurian biotite granodiorite (This study)","x":442.1,"y":-7.9},{"s":"Early Silurian biotite granodiorite (This study)","x":442.5,"y":-10.3}
  ],
  "c_text": [
    {"t":"(c)","x":467,"y":17.6},{"t":"Depleted","x":420.8,"y":13.7},{"t":"mantle","x":420.8,"y":10.8},{"t":"Chondrite","x":350.6,"y":1.75},{"t":"Lower crust","x":329,"y":-4.66},{"t":"Average of crust","x":323.6,"y":-15.65},{"t":"Upper crust","x":343.6,"y":-24.08}
  ]
},
"vconcat": [
  {
    "width": 576, "height": 504,
    "resolve": {"axis": {"x": "independent", "y": "independent"}},
    "layer": [
      {"layer": [
        {"data": {"name": "a_rect"}, "mark": {"type": "rect", "fill": "#d3b8d3", "stroke": "#222", "strokeWidth": 1.2},
         "encoding": {
           "x": {"field": "x0", "type": "quantitative", "scale": {"domain": [0.7, 0.732], "nice": false, "zero": false},
                 "axis": {"orient": "bottom", "values": [0.7,0.708,0.716,0.724,0.732], "labelPadding": 29, "labelExpr": "format(datum.value, '.3f')", "title": "(⁸⁷Sr/⁸⁶Sr)ᵢ", "titlePadding": 4}},
           "x2": {"field": "x1"},
           "y": {"field": "y0", "type": "quantitative", "scale": {"domain": [-15, 10], "nice": false, "zero": false},
                 "axis": {"orient": "left", "values": [-15,-10,-5,0,5,10], "labelExpr": "toString(datum.value)", "title": "εNd(t)", "titlePadding": 15}},
           "y2": {"field": "y1"}}},
        {"data": {"name": "a_poly"}, "transform": [{"filter": "datum.f == 'basalt'"}],
         "mark": {"type": "line", "interpolate": "cardinal-closed", "fill": "#b6f0c8", "stroke": "#111", "strokeWidth": 1.3},
         "encoding": {"x": {"field": "x", "type": "quantitative"}, "y": {"field": "y", "type": "quantitative"}, "order": {"field": "i"}}},
        {"data": {"name": "a_poly"}, "transform": [{"filter": "datum.f == 'meso'"}],
         "mark": {"type": "line", "interpolate": "cardinal-closed", "fill": "#a6a6a6", "fillOpacity": 0.7, "stroke": "#ecec9c", "strokeWidth": 2},
         "encoding": {"x": {"field": "x", "type": "quantitative"}, "y": {"field": "y", "type": "quantitative"}, "order": {"field": "i"}}},
        {"data": {"name": "a_plus"}, "mark": {"type": "point", "shape": "M-1,0H1M0,-1V1", "filled": false, "stroke": "#151515", "strokeWidth": 1.6, "size": 190, "opacity": 1},
         "encoding": {"x": {"field": "x", "type": "quantitative"}, "y": {"field": "y", "type": "quantitative"}}},
        {"data": {"name": "a_poly"}, "transform": [{"filter": "datum.f == 'lav'"}],
         "mark": {"type": "line", "interpolate": "cardinal-closed", "fill": "#a898ea", "fillOpacity": 0.45, "stroke": "#e890d4", "strokeWidth": 1.5, "strokeDash": [2, 2]},
         "encoding": {"x": {"field": "x", "type": "quantitative"}, "y": {"field": "y", "type": "quantitative"}, "order": {"field": "i"}}},
        {"data": {"name": "a_poly"}, "transform": [{"filter": "datum.f == 'lg'"}],
         "mark": {"type": "line", "interpolate": "cardinal-closed", "fill": "#c8f2b2", "fillOpacity": 0.5, "stroke": "#9ee070", "strokeWidth": 1.5, "strokeDash": [3, 2]},
         "encoding": {"x": {"field": "x", "type": "quantitative"}, "y": {"field": "y", "type": "quantitative"}, "order": {"field": "i"}}},
        {"data": {"name": "a_xl"}, "mark": {"type": "point", "shape": "M-1,-1L1,1M-1,1L1,-1", "filled": false, "stroke": "#8466e0", "strokeWidth": 1.5, "size": 150, "opacity": 1},
         "encoding": {"x": {"field": "x", "type": "quantitative"}, "y": {"field": "y", "type": "quantitative"}}},
        {"data": {"name": "a_xg"}, "mark": {"type": "point", "shape": "M-1,-1L1,1M-1,1L1,-1", "filled": false, "stroke": "#b8ec58", "strokeWidth": 1.5, "size": 150, "opacity": 1},
         "encoding": {"x": {"field": "x", "type": "quantitative"}, "y": {"field": "y", "type": "quantitative"}}},
        {"data": {"name": "a_sym"}, "mark": {"type": "point", "filled": true, "opacity": 1, "size": 250, "strokeWidth": 1.2},
         "encoding": {
           "x": {"field": "x", "type": "quantitative"}, "y": {"field": "y", "type": "quantitative"},
           "shape": {"field": "s", "type": "nominal",
             "scale": {"domain": ["Late Jurassic biotite granite (This study)","Late Jurassic two-mica granite (Literature)","Early Silurian biotite granodiorite (This study)","Late Ordovician-Early Silurian granite (Literature)","Late Jurassic syenite porphyry (Literature)","Late Jurassic diorite (Literature)","Mesozoic I- and A-type granite (Literature)","Mesozoic S-type granite (Literature)","Early Paleozoic I-type granite and MMEs (Literature)","Early Paleozoic S-type granite (Literature)"],
                       "range": ["square","square","diamond","diamond","triangle-up","triangle-up","M-1,-1H1V1H-1Z M-0.55,0H0.55 M0,-0.55V0.55","M-1,-1H1V1H-1Z M-0.55,0H0.55 M0,-0.55V0.55","M-1,-1H1V1H-1Z M-0.5,-0.5L0.5,0.5 M-0.5,0.5L0.5,-0.5","M-1,-1H1V1H-1Z M-0.5,-0.5L0.5,0.5 M-0.5,0.5L0.5,-0.5"]},
             "legend": {"orient": "none", "legendX": 604, "legendY": 44, "title": null, "labelFontSize": 16, "labelFontWeight": "bold", "labelFont": "Liberation Sans", "labelColor": "black", "labelLimit": 1000, "labelOffset": 6, "symbolSize": 289, "symbolStrokeWidth": 1.3, "rowPadding": 7, "padding": 9, "strokeColor": "#222",
                        "labelExpr": "datum.label == 'Early Paleozoic I-type granite and MMEs (Literature)' ? ['Early Paleozoic I-type granite and MMEs', '(Literature)'] : datum.label",
                        "encode": {"labels": {"update": {"lineHeight": {"value": 16.5}}}, "legend": {"update": {"strokeWidth": {"value": 1.5}}}}}},
           "fill": {"field": "s", "type": "nominal",
             "scale": {"domain": ["Late Jurassic biotite granite (This study)","Late Jurassic two-mica granite (Literature)","Early Silurian biotite granodiorite (This study)","Late Ordovician-Early Silurian granite (Literature)","Late Jurassic syenite porphyry (Literature)","Late Jurassic diorite (Literature)","Mesozoic I- and A-type granite (Literature)","Mesozoic S-type granite (Literature)","Early Paleozoic I-type granite and MMEs (Literature)","Early Paleozoic S-type granite (Literature)"],
                       "range": ["#e8281e","#7f6e66","#17a4e4","#a8a27a","#f8ef1c","#20ad5e","#cfcfcf","#f7c89c","#cdc6f5","#dff8d2"]}},
           "stroke": {"field": "s", "type": "nominal",
             "scale": {"domain": ["Late Jurassic biotite granite (This study)","Late Jurassic two-mica granite (Literature)","Early Silurian biotite granodiorite (This study)","Late Ordovician-Early Silurian granite (Literature)","Late Jurassic syenite porphyry (Literature)","Late Jurassic diorite (Literature)","Mesozoic I- and A-type granite (Literature)","Mesozoic S-type granite (Literature)","Early Paleozoic I-type granite and MMEs (Literature)","Early Paleozoic S-type granite (Literature)"],
                       "range": ["#111111","#111111","#111111","#111111","#111111","#111111","#333333","#f0862a","#8468e0","#a6e26a"]}}}},
        {"data": {"name": "a_text_c"}, "mark": {"type": "text", "align": "center", "baseline": "middle"},
         "encoding": {"x": {"field": "x", "type": "quantitative"}, "y": {"field": "y", "type": "quantitative"}, "text": {"field": "t"}}},
        {"data": {"name": "a_text_l"}, "mark": {"type": "text", "align": "left", "baseline": "middle"},
         "encoding": {"x": {"field": "x", "type": "quantitative"}, "y": {"field": "y", "type": "quantitative"}, "text": {"field": "t"}}},
        {"data": {"name": "a_arrow"}, "mark": {"type": "rule", "color": "black", "strokeWidth": 1.3},
         "encoding": {"x": {"field": "x", "type": "quantitative"}, "y": {"field": "y", "type": "quantitative"}, "x2": {"field": "x2"}, "y2": {"field": "y2"}}},
        {"mark": {"type": "point", "shape": "triangle-left", "angle": 344, "filled": true, "color": "black", "size": 60, "opacity": 1},
         "encoding": {"x": {"datum": 0.7054, "type": "quantitative"}, "y": {"datum": 5.3, "type": "quantitative"}}},
        {"mark": {"type": "point", "shape": "triangle-down", "filled": true, "color": "black", "size": 60, "opacity": 1},
         "encoding": {"x": {"datum": 0.7255, "type": "quantitative"}, "y": {"datum": -9.95, "type": "quantitative"}}}
      ]},
      {"layer": [
        {"mark": {"type": "rule", "color": "black", "strokeWidth": 2.2, "strokeDash": [11, 6]},
         "encoding": {
           "x": {"datum": 0.704, "type": "quantitative", "scale": {"domain": [0.7, 0.732], "nice": false, "zero": false},
                 "axis": {"orient": "top", "values": [0.7,0.704,0.708,0.712,0.716,0.72,0.724,0.728,0.732], "labels": false, "title": null}},
           "y": {"datum": -15, "type": "quantitative", "scale": {"domain": [-15, 10], "nice": false, "zero": false},
                 "axis": {"orient": "right", "values": [-15,-14,-13,-12,-11,-10,-9,-8,-7,-6,-5,-4,-3,-2,-1,0,1,2,3,4,5,6,7,8,9,10], "labels": false, "title": null}},
           "y2": {"datum": 10}}}
      ]},
      {"layer": [
        {"mark": {"type": "rule", "color": "black", "strokeWidth": 2.2, "strokeDash": [11, 6]},
         "encoding": {
           "x": {"datum": 0.7, "type": "quantitative", "scale": {"domain": [0.7, 0.732], "nice": false, "zero": false},
                 "axis": {"orient": "bottom", "values": [0.7,0.704,0.708,0.712,0.716,0.72,0.724,0.728,0.732], "labels": false, "title": null}},
           "x2": {"datum": 0.732},
           "y": {"datum": 0, "type": "quantitative", "scale": {"domain": [-15, 10], "nice": false, "zero": false},
                 "axis": {"orient": "left", "values": [-15,-14,-13,-12,-11,-10,-9,-8,-7,-6,-5,-4,-3,-2,-1,0,1,2,3,4,5,6,7,8,9,10], "labels": false, "title": null}}}}
      ]}
    ]
  },
  {
    "width": 576, "height": 414,
    "resolve": {"axis": {"x": "independent", "y": "independent"}},
    "layer": [
      {"layer": [
        {"data": {"name": "b_band"}, "transform": [{"filter": "datum.b == 'lm'"}], "mark": {"type": "area", "fill": "#ddf5dd", "stroke": "#111", "strokeWidth": 1},
         "encoding": {
           "x": {"field": "x", "type": "quantitative", "scale": {"domain": [0, 500], "nice": false, "zero": false},
                 "axis": {"orient": "bottom", "values": [0,100,200,300,400,500], "labelPadding": 28, "labelExpr": "toString(datum.value)", "title": "Age (Ma)", "titlePadding": 7}},
           "y": {"field": "hi", "type": "quantitative", "scale": {"domain": [-30, 15], "nice": false, "zero": false},
                 "axis": {"orient": "left", "values": [-30,-20,-10,0,10], "labelExpr": "toString(datum.value)", "title": "εNd(t)", "titlePadding": 15}},
           "y2": {"field": "lo"}}},
        {"data": {"name": "b_band"}, "transform": [{"filter": "datum.b == 'hx'"}], "mark": {"type": "area", "fill": "#f3d5c9", "stroke": "#111", "strokeWidth": 1},
         "encoding": {"x": {"field": "x", "type": "quantitative"}, "y": {"field": "hi", "type": "quantitative"}, "y2": {"field": "lo"}}},
        {"data": {"name": "b_band"}, "transform": [{"filter": "datum.b == 'bd'"}], "mark": {"type": "area", "fill": "#eed09c", "stroke": "#111", "strokeWidth": 1},
         "encoding": {"x": {"field": "x", "type": "quantitative"}, "y": {"field": "hi", "type": "quantitative"}, "y2": {"field": "lo"}}},
        {"data": {"name": "b_poly"}, "transform": [{"filter": "datum.f == 'meso'"}],
         "mark": {"type": "line", "interpolate": "cardinal-closed", "fill": "#a6a6a6", "fillOpacity": 0.7, "stroke": "#ecec9c", "strokeWidth": 2},
         "encoding": {"x": {"field": "x", "type": "quantitative"}, "y": {"field": "y", "type": "quantitative"}, "order": {"field": "i"}}},
        {"data": {"name": "b_poly"}, "transform": [{"filter": "datum.f == 'lg'"}],
         "mark": {"type": "line", "interpolate": "linear-closed", "fill": "#c8f2b2", "fillOpacity": 0.6, "stroke": "#9ee070", "strokeWidth": 1.5, "strokeDash": [3, 2]},
         "encoding": {"x": {"field": "x", "type": "quantitative"}, "y": {"field": "y", "type": "quantitative"}, "order": {"field": "i"}}},
        {"data": {"name": "b_poly"}, "transform": [{"filter": "datum.f == 'lav'"}],
         "mark": {"type": "line", "interpolate": "linear-closed", "fill": "#a898ea", "fillOpacity": 0.5, "stroke": "#e890d4", "strokeWidth": 1.5, "strokeDash": [2, 2]},
         "encoding": {"x": {"field": "x", "type": "quantitative"}, "y": {"field": "y", "type": "quantitative"}, "order": {"field": "i"}}},
        {"data": {"name": "b_poly"}, "transform": [{"filter": "datum.f == 'or'"}],
         "mark": {"type": "line", "interpolate": "cardinal-closed", "fill": "#f0a466", "stroke": "#e8a6d6", "strokeWidth": 2},
         "encoding": {"x": {"field": "x", "type": "quantitative"}, "y": {"field": "y", "type": "quantitative"}, "order": {"field": "i"}}},
        {"data": {"name": "b_plus"}, "mark": {"type": "point", "shape": "M-1,0H1M0,-1V1", "filled": false, "stroke": "#151515", "strokeWidth": 1.6, "size": 170, "opacity": 1},
         "encoding": {"x": {"field": "x", "type": "quantitative"}, "y": {"field": "y", "type": "quantitative"}}},
        {"data": {"name": "b_orange"}, "mark": {"type": "point", "shape": "M-1,0H1M0,-1V1", "filled": false, "stroke": "#e8801e", "strokeWidth": 2, "size": 150, "opacity": 1},
         "encoding": {"x": {"field": "x", "type": "quantitative"}, "y": {"field": "y", "type": "quantitative"}}},
        {"data": {"name": "b_xl"}, "mark": {"type": "point", "shape": "M-1,-1L1,1M-1,1L1,-1", "filled": false, "stroke": "#8466e0", "strokeWidth": 1.5, "size": 150, "opacity": 1},
         "encoding": {"x": {"field": "x", "type": "quantitative"}, "y": {"field": "y", "type": "quantitative"}}},
        {"data": {"name": "b_xg"}, "mark": {"type": "point", "shape": "M-1,-1L1,1M-1,1L1,-1", "filled": false, "stroke": "#b8ec58", "strokeWidth": 1.5, "size": 150, "opacity": 1},
         "encoding": {"x": {"field": "x", "type": "quantitative"}, "y": {"field": "y", "type": "quantitative"}}},
        {"data": {"name": "b_sym"}, "mark": {"type": "point", "filled": true, "opacity": 1, "size": 230, "strokeWidth": 1.2},
         "encoding": {
           "x": {"field": "x", "type": "quantitative"}, "y": {"field": "y", "type": "quantitative"},
           "shape": {"field": "s", "type": "nominal", "legend": null},
           "fill": {"field": "s", "type": "nominal", "legend": null},
           "stroke": {"field": "s", "type": "nominal", "legend": null}}},
        {"data": {"name": "b_text"}, "mark": {"type": "text", "align": "center", "baseline": "middle"},
         "encoding": {"x": {"field": "x", "type": "quantitative"}, "y": {"field": "y", "type": "quantitative"}, "text": {"field": "t"}}},
        {"data": {"name": "b_text_r"}, "mark": {"type": "text", "align": "center", "baseline": "middle", "angle": 354},
         "encoding": {"x": {"field": "x", "type": "quantitative"}, "y": {"field": "y", "type": "quantitative"}, "text": {"field": "t"}}},
        {"data": {"name": "b_cath"}, "mark": {"type": "text", "align": "center", "baseline": "middle", "font": "Liberation Serif", "fontStyle": "italic", "fontWeight": "bold", "fontSize": 36},
         "encoding": {"x": {"field": "x", "type": "quantitative"}, "y": {"field": "y", "type": "quantitative"}, "text": {"field": "t"}}}
      ]},
      {"layer": [
        {"data": {"name": "b_lines"}, "transform": [{"filter": "datum.l == 'ch'"}], "mark": {"type": "line", "color": "black", "strokeWidth": 2.2},
         "encoding": {
           "x": {"field": "x", "type": "quantitative", "scale": {"domain": [0, 500], "nice": false, "zero": false},
                 "axis": {"orient": "top", "values": [0,50,100,150,200,250,300,350,400,450,500], "labels": false, "title": null}},
           "y": {"field": "y", "type": "quantitative", "scale": {"domain": [-30, 15], "nice": false, "zero": false},
                 "axis": {"orient": "right", "values": [-30,-25,-20,-15,-10,-5,0,5,10,15], "labels": false, "title": null}}}}
      ]},
      {"layer": [
        {"data": {"name": "b_lines"}, "transform": [{"filter": "datum.l == 'dm'"}], "mark": {"type": "line", "color": "#22aed6", "strokeWidth": 2.5},
         "encoding": {
           "x": {"field": "x", "type": "quantitative", "scale": {"domain": [0, 500], "nice": false, "zero": false},
                 "axis": {"orient": "bottom", "values": [0,50,100,150,200,250,300,350,400,450,500], "labels": false, "title": null}},
           "y": {"field": "y", "type": "quantitative", "scale": {"domain": [-30, 15], "nice": false, "zero": false},
                 "axis": {"orient": "left", "values": [-30,-25,-20,-15,-10,-5,0,5,10,15], "labels": false, "title": null}}}}
      ]}
    ]
  },
  {
    "width": 576, "height": 375,
    "resolve": {"axis": {"x": "independent", "y": "independent"}},
    "layer": [
      {"layer": [
        {"data": {"name": "c_poly"}, "transform": [{"filter": "datum.f == 'lg'"}],
         "mark": {"type": "line", "interpolate": "cardinal-closed", "fill": "#c8f2b2", "fillOpacity": 0.55, "stroke": "#a6e47a", "strokeWidth": 1.5, "strokeDash": [3, 2]},
         "encoding": {
           "x": {"field": "x", "type": "quantitative", "scale": {"domain": [0, 500], "nice": false, "zero": false},
                 "axis": {"orient": "bottom", "values": [0,50,100,150,200,250,300,350,400,450,500], "labelPadding": 28, "labelExpr": "datum.value % 100 == 0 ? toString(datum.value) : ''", "title": "Age (Ma)", "titlePadding": 7}},
           "y": {"field": "y", "type": "quantitative", "scale": {"domain": [-30, 20], "nice": false, "zero": false},
                 "axis": {"orient": "left", "values": [-30,-20,-10,0,10,20], "labelExpr": "toString(datum.value)", "title": "εHf(t)Zircon", "titlePadding": 15}},
           "order": {"field": "i"}}},
        {"data": {"name": "c_poly"}, "transform": [{"filter": "datum.f == 'lav'"}],
         "mark": {"type": "line", "interpolate": "cardinal-closed", "fill": "#a898ea", "fillOpacity": 0.5, "stroke": "#e890d4", "strokeWidth": 1.5, "strokeDash": [2, 2]},
         "encoding": {"x": {"field": "x", "type": "quantitative"}, "y": {"field": "y", "type": "quantitative"}, "order": {"field": "i"}}},
        {"data": {"name": "c_poly"}, "transform": [{"filter": "datum.f == 'meso'"}],
         "mark": {"type": "line", "interpolate": "cardinal-closed", "fill": "#a6a6a6", "fillOpacity": 0.7, "stroke": "#ecec9c", "strokeWidth": 2},
         "encoding": {"x": {"field": "x", "type": "quantitative"}, "y": {"field": "y", "type": "quantitative"}, "order": {"field": "i"}}},
        {"data": {"name": "c_poly"}, "transform": [{"filter": "datum.f == 'or'"}],
         "mark": {"type": "line", "interpolate": "cardinal-closed", "fill": "#f3b98c", "stroke": "#e8a6d6", "strokeWidth": 2},
         "encoding": {"x": {"field": "x", "type": "quantitative"}, "y": {"field": "y", "type": "quantitative"}, "order": {"field": "i"}}},
        {"data": {"name": "c_plus"}, "mark": {"type": "point", "shape": "M-1,0H1M0,-1V1", "filled": false, "stroke": "#151515", "strokeWidth": 1.5, "size": 150, "opacity": 1},
         "encoding": {"x": {"field": "x", "type": "quantitative"}, "y": {"field": "y", "type": "quantitative"}}},
        {"data": {"name": "c_orange"}, "mark": {"type": "point", "shape": "M-1,0H1M0,-1V1", "filled": false, "stroke": "#e8801e", "strokeWidth": 2, "size": 120, "opacity": 1},
         "encoding": {"x": {"field": "x", "type": "quantitative"}, "y": {"field": "y", "type": "quantitative"}}},
        {"data": {"name": "c_xg"}, "mark": {"type": "point", "shape": "M-1,-1L1,1M-1,1L1,-1", "filled": false, "stroke": "#b8ec58", "strokeWidth": 1.5, "size": 150, "opacity": 1},
         "encoding": {"x": {"field": "x", "type": "quantitative"}, "y": {"field": "y", "type": "quantitative"}}},
        {"data": {"name": "c_xl"}, "mark": {"type": "point", "shape": "M-1,-1L1,1M-1,1L1,-1", "filled": false, "stroke": "#8466e0", "strokeWidth": 1.5, "size": 150, "opacity": 1},
         "encoding": {"x": {"field": "x", "type": "quantitative"}, "y": {"field": "y", "type": "quantitative"}}},
        {"data": {"name": "c_sym"}, "mark": {"type": "point", "filled": true, "opacity": 1, "size": 230, "strokeWidth": 1.2},
         "encoding": {
           "x": {"field": "x", "type": "quantitative"}, "y": {"field": "y", "type": "quantitative"},
           "shape": {"field": "s", "type": "nominal", "legend": null},
           "fill": {"field": "s", "type": "nominal", "legend": null},
           "stroke": {"field": "s", "type": "nominal", "legend": null}}}
      ]},
      {"layer": [
        {"data": {"name": "c_lines"}, "transform": [{"filter": "datum.l == 'ch'"}], "mark": {"type": "line", "color": "black", "strokeWidth": 2.2},
         "encoding": {
           "x": {"field": "x", "type": "quantitative", "scale": {"domain": [0, 500], "nice": false, "zero": false},
                 "axis": {"orient": "top", "values": [0,10,20,30,40,50,60,70,80,90,100,110,120,130,140,150,160,170,180,190,200,210,220,230,240,250,260,270,280,290,300,310,320,330,340,350,360,370,380,390,400,410,420,430,440,450,460,470,480,490,500], "labels": false, "title": null, "tickSize": -7}},
           "y": {"field": "y", "type": "quantitative", "scale": {"domain": [-30, 20], "nice": false, "zero": false},
                 "axis": {"orient": "right", "values": [-30,-29,-28,-27,-26,-25,-24,-23,-22,-21,-20,-19,-18,-17,-16,-15,-14,-13,-12,-11,-10,-9,-8,-7,-6,-5,-4,-3,-2,-1,0,1,2,3,4,5,6,7,8,9,10,11,12,13,14,15,16,17,18,19,20], "labels": false, "title": null, "tickSize": -7}}}}
      ]},
      {"layer": [
        {"data": {"name": "c_lines"}, "transform": [{"filter": "datum.l != 'ch'"}], "mark": {"type": "line", "color": "#22aed6", "strokeWidth": 2.5},
         "encoding": {
           "x": {"field": "x", "type": "quantitative", "scale": {"domain": [0, 500], "nice": false, "zero": false},
                 "axis": {"orient": "bottom", "values": [0,10,20,30,40,50,60,70,80,90,100,110,120,130,140,150,160,170,180,190,200,210,220,230,240,250,260,270,280,290,300,310,320,330,340,350,360,370,380,390,400,410,420,430,440,450,460,470,480,490,500], "labels": false, "title": null, "tickSize": -7}},
           "y": {"field": "y", "type": "quantitative", "scale": {"domain": [-30, 20], "nice": false, "zero": false},
                 "axis": {"orient": "left", "values": [-25,-15,-5,5,15], "labelExpr": "toString(datum.value)", "title": null}},
           "detail": {"field": "l"}}}
      ]},
      {"layer": [
        {"data": {"name": "c_text"}, "mark": {"type": "text", "align": "center", "baseline": "middle"},
         "encoding": {
           "x": {"field": "x", "type": "quantitative", "scale": {"domain": [0, 500], "nice": false, "zero": false}, "axis": null},
           "y": {"field": "y", "type": "quantitative", "scale": {"domain": [-30, 20], "nice": false, "zero": false},
                 "axis": {"orient": "left", "values": [-30,-29,-28,-27,-26,-25,-24,-23,-22,-21,-20,-19,-18,-17,-16,-15,-14,-13,-12,-11,-10,-9,-8,-7,-6,-5,-4,-3,-2,-1,0,1,2,3,4,5,6,7,8,9,10,11,12,13,14,15,16,17,18,19,20], "labels": false, "title": null, "tickSize": -7}},
           "text": {"field": "t"}}}
      ]}
    ]
  }
]
}
